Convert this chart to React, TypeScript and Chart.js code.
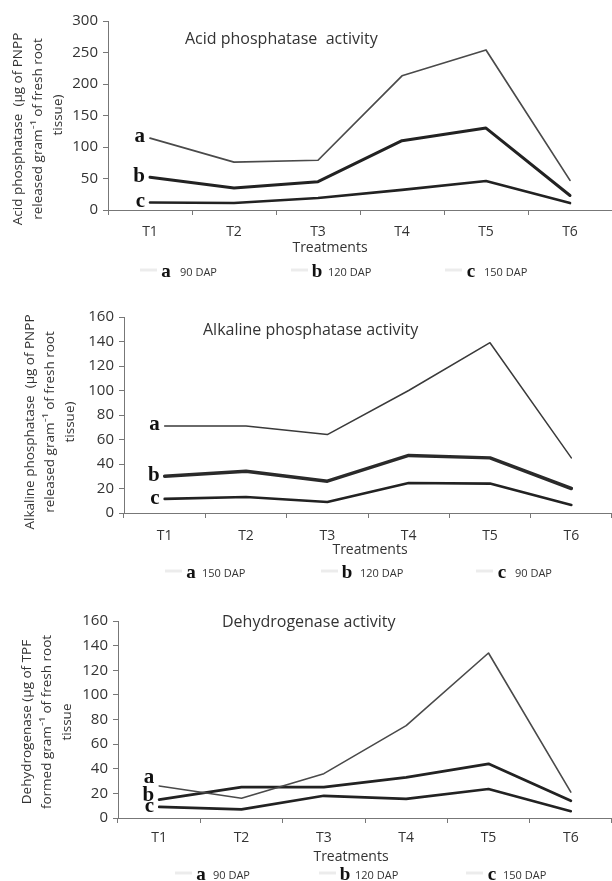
import React, { useEffect, useRef } from "react";
import { Chart, registerables } from "chart.js";
Chart.register(...registerables);

const SANS = "'Open Sans', Lato, sans-serif";
const SERIF = "'Liberation Serif', 'DejaVu Serif', serif";

// ---------- data ----------
const treatments = ["T1", "T2", "T3", "T4", "T5", "T6"];
const seriesLetters = ["a", "b", "c"];

const acidA = [114, 76, 79, 213, 254, 47];
const acidB = [52, 35, 45, 110, 130, 23];
const acidC = [12, 11, 19, 32, 46, 11];
const acidLegend = ["90 DAP", "120 DAP", "150 DAP"];

const alkA = [71, 71, 64, 100, 139, 45];
const alkB = [30, 34, 26, 47, 45, 20];
const alkC = [11.5, 13, 9, 24.5, 24, 6.5];
const alkLegend = ["150 DAP", "120 DAP", "90 DAP"];

const dehA = [26, 16, 36, 75, 134, 21];
const dehB = [15, 25, 25, 33, 44, 14];
const dehC = [9, 7, 18, 15.5, 23.5, 5.5];
const dehLegend = ["90 DAP", "120 DAP", "150 DAP"];

type Panel = {
  top: number;
  height: number;
  left: number;
  plotTop: number;
  plotBottom: number;
  max: number;
  step: number;
  series: number[][];
  widths: number[];
  colors: string[];
  legend: string[];
  title: string;
  titleX: number;
  titleY: number;
  yTitle: string[];
  yTitleX: number;
  yTitleY: number;
  yTitleOff: number[];
  xTitleX: number;
  xTitleY: number;
  xPad: number;
  labelDy: number[];
  legendY: number;
  legendLetterX: number[];
  legendTextX: number[];
};

const panels: Panel[] = [
  {
    top: 0, height: 290, left: 108, plotTop: 21, plotBottom: 210, max: 300, step: 50,
    series: [acidA, acidB, acidC], widths: [1.7, 3, 2.6], colors: ["#4a4a4a", "#222", "#222"],
    legend: acidLegend,
    title: "Acid phosphatase  activity", titleX: 185, titleY: 39,
    yTitle: ["Acid phosphatase  (µg of PNPP", "released gram⁻¹ of fresh root", "tissue)"],
    yTitleX: 18, yTitleY: 129, yTitleOff: [0, 0, -14],
    xTitleX: 330, xTitleY: 248, xPad: 9,
    labelDy: [4, 5, 5],
    legendY: 272, legendLetterX: [166, 317, 471], legendTextX: [180, 328, 484],
  },
  {
    top: 290, height: 300, left: 124, plotTop: 27, plotBottom: 223, max: 160, step: 20,
    series: [alkA, alkB, alkC], widths: [1.5, 3.5, 2.6], colors: ["#3a3a3a", "#2a2a2a", "#222"],
    legend: alkLegend,
    title: "Alkaline phosphatase activity", titleX: 203, titleY: 40,
    yTitle: ["Alkaline phosphatase  (µg of PNPP", "released gram⁻¹ of fresh root", "tissue)"],
    yTitleX: 30, yTitleY: 132, yTitleOff: [0, 0, 0],
    xTitleX: 370, xTitleY: 260, xPad: 10,
    labelDy: [4, 5, 5],
    legendY: 283, legendLetterX: [191, 347, 502], legendTextX: [202, 360, 515],
  },
  {
    top: 590, height: 291, left: 118, plotTop: 31, plotBottom: 228, max: 160, step: 20,
    series: [dehA, dehB, dehC], widths: [1.6, 2.8, 2.6], colors: ["#4a4a4a", "#222", "#222"],
    legend: dehLegend,
    title: "Dehydrogenase activity", titleX: 222, titleY: 32,
    yTitle: ["Dehydrogenase (µg of TPF", "formed gram⁻¹ of fresh root", "tissue"],
    yTitleX: 27, yTitleY: 132, yTitleOff: [0, 0, 0],
    xTitleX: 351, xTitleY: 267, xPad: 7,
    labelDy: [-3, 1, 5],
    legendY: 285, legendLetterX: [201, 345, 492], legendTextX: [213, 355, 503],
  },
];

const decor = {
  id: "decor",
  afterDatasetsDraw(chart: any, _args: any, opts: any) {
    const p: Panel = opts.panel;
    if (!p) return;
    const c = chart.ctx as CanvasRenderingContext2D;
    const xs = chart.scales.x;
    const ys = chart.scales.y;
    c.save();
    c.fillStyle = "#333";
    // title
    c.font = `16px ${SANS}`;
    c.textAlign = "left";
    c.textBaseline = "middle";
    c.fillText(p.title, p.titleX, p.titleY);
    // y title
    c.save();
    c.font = `13.5px ${SANS}`;
    c.textAlign = "center";
    c.translate(p.yTitleX, p.yTitleY);
    c.rotate(-Math.PI / 2);
    p.yTitle.forEach((t, i) => c.fillText(t, -p.yTitleOff[i], i * 20));
    c.restore();
    // x title
    c.font = `14px ${SANS}`;
    c.textAlign = "center";
    c.fillText("Treatments", p.xTitleX, p.xTitleY);
    // series labels
    c.font = `bold 21px ${SERIF}`;
    c.textAlign = "right";
    c.textBaseline = "alphabetic";
    c.fillStyle = "#111";
    chart.data.datasets.forEach((ds: any, i: number) => {
      const px = xs.getPixelForValue(0) - 5;
      const py = ys.getPixelForValue(ds.data[0]) + p.labelDy[i];
      c.fillText(seriesLetters[i], px, py);
    });
    // legend
    p.legend.forEach((t, i) => {
      const lx = p.legendLetterX[i];
      c.strokeStyle = "#ececec";
      c.lineWidth = 3;
      c.beginPath();
      c.moveTo(lx - 26, p.legendY - 2);
      c.lineTo(lx - 9, p.legendY - 2);
      c.stroke();
      c.fillStyle = "#111";
      c.font = `bold 19px ${SERIF}`;
      c.textAlign = "center";
      c.textBaseline = "alphabetic";
      c.fillText(seriesLetters[i], lx, p.legendY + 5);
      c.fillStyle = "#333";
      c.font = `11px ${SANS}`;
      c.textAlign = "left";
      c.fillText(t, p.legendTextX[i], p.legendY + 4);
    });
    c.restore();
  },
};

function ChartPanel({ p }: { p: Panel }) {
  const ref = useRef<HTMLCanvasElement>(null);
  useEffect(() => {
    const canvas = ref.current!;
    const xHeight = p.height - p.plotBottom;
    const chart = new Chart(canvas, {
      type: "line",
      data: {
        labels: treatments,
        datasets: p.series.map((s, i) => ({
          label: seriesLetters[i],
          data: s,
          borderColor: p.colors[i],
          borderWidth: p.widths[i],
          pointRadius: 0,
          tension: 0,
          fill: false,
          borderJoinStyle: "round" as const,
          borderCapStyle: "round" as const,
        })),
      },
      options: {
        responsive: false,
        animation: false,
        layout: { padding: { top: p.plotTop, right: 0, left: 0, bottom: 0 } },
        plugins: {
          legend: { display: false },
          tooltip: { enabled: false },
          decor: { panel: p },
        } as any,
        scales: {
          x: {
            type: "category",
            offset: true,
            grid: { offset: true, drawOnChartArea: false, drawTicks: true, tickLength: 5, color: "#777" },
            border: { color: "#777", width: 1 },
            ticks: { font: { family: SANS, size: 14 }, color: "#333", padding: p.xPad, maxRotation: 0 },
            afterFit: (s: any) => { s.height = xHeight; },
          },
          y: {
            min: 0,
            max: p.max,
            ticks: { stepSize: p.step, font: { family: SANS, size: 15 }, color: "#333", padding: 5 },
            grid: { drawOnChartArea: false, drawTicks: true, tickLength: 5, color: "#777" },
            border: { color: "#777", width: 1 },
            afterFit: (s: any) => { s.width = p.left; },
          },
        },
      },
      plugins: [decor],
    });
    return () => chart.destroy();
  }, []);
  return (
    <div style={{ position: "absolute", left: 0, top: p.top, width: 612, height: p.height }}>
      <canvas ref={ref} width={612} height={p.height} style={{ display: "block" }} />
    </div>
  );
}

export default function App() {
  return (
    <div style={{ position: "absolute", left: 0, top: 0, width: 612, height: 881, background: "#fff" }}>
      {panels.map((p, i) => (
        <ChartPanel key={i} p={p} />
      ))}
    </div>
  );
}
